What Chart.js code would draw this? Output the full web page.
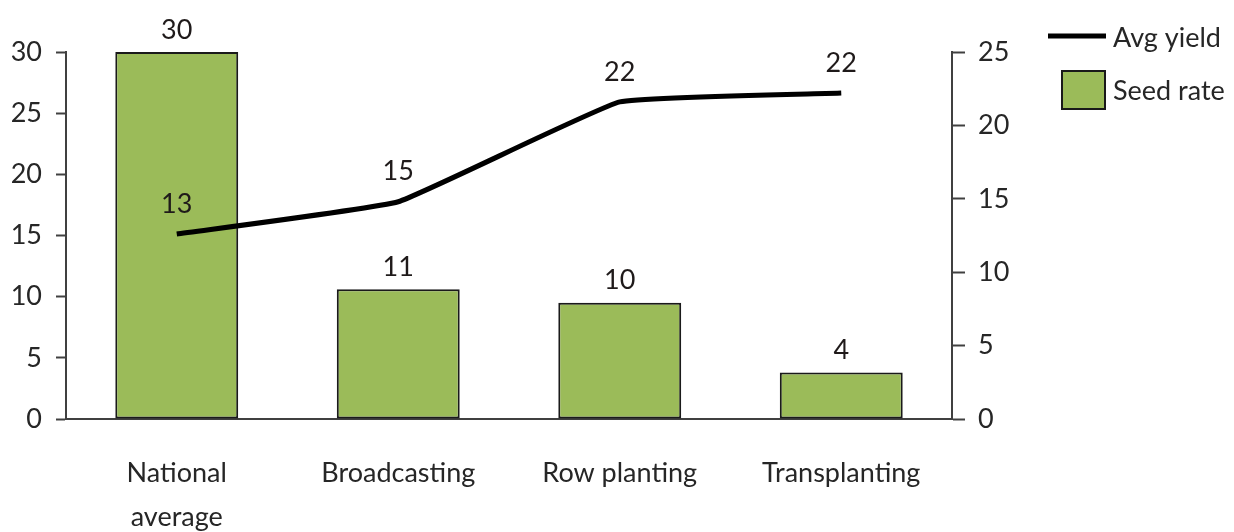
<!DOCTYPE html>
<html>
<head>
<meta charset="utf-8">
<script src="https://cdn.jsdelivr.net/npm/chart.js@4.4.1/dist/chart.umd.min.js"></script>
<style>
  html, body { margin: 0; padding: 0; background: #ffffff; }
  #wrap { width: 1234px; height: 532px; position: relative; }
</style>
</head>
<body>
<div id="wrap"><canvas id="c"></canvas></div>
<script>
const categories = [["National", "average"], "Broadcasting", "Row planting", "Transplanting"];
const seedRate = [30, 10.6, 9.5, 3.8];
const avgYield = [12.6, 14.8, 21.6, 22.2];
const leftTicks = [0, 5, 10, 15, 20, 25, 30];
const rightTicks = [0, 5, 10, 15, 20, 25];
const seriesNames = ["Avg yield", "Seed rate"];

const FONT = "Lato, 'DejaVu Sans', sans-serif";
const TEXT = "#262626";
const AXIS = "#404040";
const GREEN = "#9BBB59";

const valueLabels = {
  id: "valueLabels",
  afterDatasetsDraw(chart) {
    const ctx = chart.ctx;
    ctx.save();
    ctx.font = "27px " + FONT;
    ctx.fillStyle = "#1f1a1a";
    ctx.textAlign = "center";
    ctx.textBaseline = "middle";
    chart.data.datasets.forEach((ds, i) => {
      const meta = chart.getDatasetMeta(i);
      const off = ds.type === "line" ? 30 : 22;
      meta.data.forEach((el, j) => {
        ctx.fillText(String(Math.round(ds.data[j])), el.x, el.y - off);
      });
    });
    ctx.restore();
  }
};

const customLegend = {
  id: "customLegend",
  afterDraw(chart) {
    const ctx = chart.ctx;
    ctx.save();
    ctx.strokeStyle = "#000000";
    ctx.lineWidth = 5;
    ctx.beginPath();
    ctx.moveTo(1048, 36);
    ctx.lineTo(1106, 36);
    ctx.stroke();
    ctx.fillStyle = GREEN;
    ctx.fillRect(1062, 71, 43, 38);
    ctx.strokeStyle = "#1a1a1a";
    ctx.lineWidth = 2;
    ctx.strokeRect(1062, 71, 43, 38);
    ctx.font = "27px " + FONT;
    ctx.fillStyle = TEXT;
    ctx.textAlign = "left";
    ctx.textBaseline = "middle";
    ctx.fillText(seriesNames[0], 1113, 38);
    ctx.fillText(seriesNames[1], 1113, 91);
    ctx.restore();
  }
};

new Chart(document.getElementById("c"), {
  data: {
    labels: categories,
    datasets: [
      {
        type: "line",
        label: seriesNames[0],
        data: avgYield,
        yAxisID: "y1",
        borderColor: "#000000",
        borderWidth: 5,
        pointRadius: 0,
        tension: 0.1,
        fill: false,
        order: 0
      },
      {
        type: "bar",
        label: seriesNames[1],
        data: seedRate,
        yAxisID: "y",
        backgroundColor: GREEN,
        borderColor: "#1a1a1a",
        borderWidth: 2,
        borderSkipped: false,
        categoryPercentage: 1.0,
        barPercentage: 0.555,
        order: 1
      }
    ]
  },
  options: {
    responsive: true,
    maintainAspectRatio: false,
    animation: false,
    layout: { padding: { top: 52, left: 0, right: 0, bottom: 0 } },
    plugins: {
      legend: { display: false },
      tooltip: { enabled: false }
    },
    scales: {
      x: {
        grid: { display: false, drawTicks: false },
        border: { display: true, color: AXIS, width: 2 },
        ticks: {
          color: TEXT,
          font: { family: FONT, size: 27, lineHeight: 1.6 },
          padding: 33,
          maxRotation: 0,
          autoSkip: false
        },
        afterFit(scale) { scale.height = 113; }
      },
      y: {
        position: "left",
        min: 0,
        max: 30,
        afterBuildTicks(scale) { scale.ticks = leftTicks.map(v => ({ value: v })); },
        grid: { drawOnChartArea: false, drawTicks: true, tickLength: 10, tickColor: AXIS, tickWidth: 2 },
        border: { display: true, color: AXIS, width: 2 },
        ticks: { color: TEXT, font: { family: FONT, size: 27 }, padding: 14 },
        afterFit(scale) { scale.width = 66; }
      },
      y1: {
        position: "right",
        min: 0,
        max: 25,
        afterBuildTicks(scale) { scale.ticks = rightTicks.map(v => ({ value: v })); },
        grid: { drawOnChartArea: false, drawTicks: true, tickLength: 13, tickColor: AXIS, tickWidth: 2 },
        border: { display: true, color: AXIS, width: 2 },
        ticks: { color: TEXT, font: { family: FONT, size: 27 }, padding: 13 },
        afterFit(scale) { scale.width = 282; }
      }
    }
  },
  plugins: [valueLabels, customLegend]
});
</script>
</body>
</html>
